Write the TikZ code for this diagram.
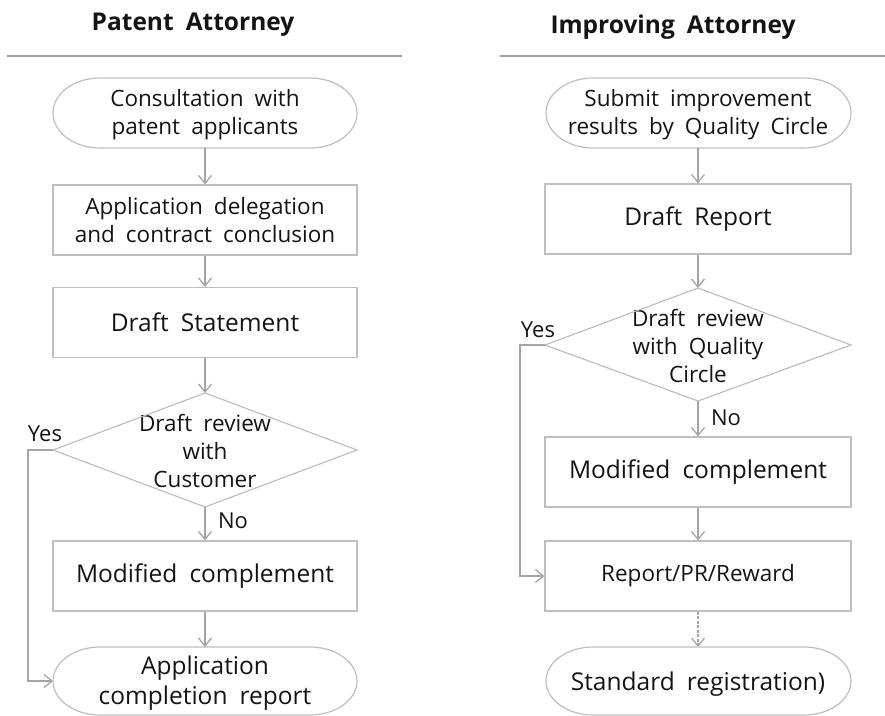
\documentclass[tikz,border=0pt]{standalone}
\usepackage{fontspec}
\setmainfont{Open Sans}[WordSpace=1.9]
\usetikzlibrary{arrows.meta}
\definecolor{edge}{RGB}{190,190,190}
\definecolor{wire}{RGB}{165,165,165}
\definecolor{rule}{RGB}{160,160,160}
\definecolor{ink}{RGB}{20,20,20}
\begin{document}
\begin{tikzpicture}[x=1pt,y=-1pt,
  txt/.style={text=ink,align=center,inner sep=0pt,font=\fontsize{22.5}{28}\selectfont},
  bigtxt/.style={txt,font=\fontsize{24.5}{30}\selectfont},
  procbox/.style={draw=edge,line width=1.2pt,minimum width=304pt,minimum height=70pt,inner sep=0pt},
  outline/.style={draw=edge,line width=1.2pt},
  flow/.style={draw=wire,line width=1.3pt,-{Straight Barb[length=8pt,width=13pt,line width=1.3pt]}},
  title/.style={text=ink,inner sep=0pt,font=\fontsize{24.5}{28}\selectfont\bfseries},
  lbl/.style={text=ink,inner sep=0pt,font=\fontsize{22}{26}\selectfont}]
\useasboundingbox (0,0) rectangle (885,715);

% column headings
\node[title] (hL) at (193,25) {Patent Attorney};
\node[title] (hR) at (673,27) {Improving Attorney};
\draw[rule,line width=1.6pt] (7,56) -- (402,56);
\draw[rule,line width=1.6pt] (500,56) -- (885,56);

% ---- left column ----
\node[txt] (t1) at (205,115) {Consultation with\\patent applicants};
\draw[outline] (100,78) -- (310,78) arc[start angle=-90,end angle=90,x radius=47,y radius=35] -- (100,148) arc[start angle=90,end angle=270,x radius=47,y radius=35] -- cycle;
\node[procbox,txt] (b1) at (205,220) {Application delegation\\and contract conclusion};
\node[procbox,bigtxt] (b2) at (205,322.5) {Draft Statement};
\node[txt] (d1) at (205,451) {Draft review\\with\\Customer};
\coordinate (d1n) at (205,393);
\coordinate (d1e) at (357,450);
\coordinate (d1s) at (205,507);
\coordinate (d1w) at (53,450);
\draw[outline] (d1n) -- (d1e) -- (d1s) -- (d1w) -- cycle;
\node[procbox,bigtxt] (b3) at (205,576) {Modified complement};
\node[bigtxt] (t2) at (205,683) {Application\\completion report};
\draw[outline] (100,647) -- (310,647) arc[start angle=-90,end angle=90,x radius=47,y radius=34] -- (100,715) arc[start angle=90,end angle=270,x radius=47,y radius=34] -- cycle;
\coordinate (t1s) at (205,148);
\coordinate (t2n) at (205,647);
\coordinate (t2w) at (53,681);
\coordinate (yL) at (28,450);

\draw[flow] (t1s) -- (b1);
\draw[flow] (b1) -- (b2);
\draw[flow] (b2) -- (d1n);
\draw[flow] (d1s) -- (b3);
\draw[flow] (b3) -- (t2n);
\draw[flow] (d1w) -- (yL) |- (t2w);
\node[lbl] (yesL) at (45,434) {Yes};
\node[lbl] (noL) at (233,521) {No};

% ---- right column ----
\node[txt] (t3) at (698,115) {Submit improvement\\results by Quality Circle};
\draw[outline] (593,78) -- (804,78) arc[start angle=-90,end angle=90,x radius=47,y radius=35] -- (593,148) arc[start angle=90,end angle=270,x radius=47,y radius=35] -- cycle;
\node[procbox,bigtxt,minimum width=306pt] (b4) at (698,219) {Draft Report};
\node[txt] (d2) at (698,346) {Draft review\\with Quality\\Circle};
\coordinate (d2n) at (698,288);
\coordinate (d2e) at (851,345);
\coordinate (d2s) at (698,401);
\coordinate (d2w) at (545,345);
\draw[outline] (d2n) -- (d2e) -- (d2s) -- (d2w) -- cycle;
\node[procbox,bigtxt,minimum width=306pt] (b5) at (698,472) {Modified complement};
\node[procbox,txt,minimum width=306pt] (b6) at (698,576) {Report/PR/Reward};
\node[bigtxt] (t4) at (698,684) {Standard registration)};
\draw[outline] (593,647) -- (804,647) arc[start angle=-90,end angle=90,x radius=47,y radius=34] -- (593,715) arc[start angle=90,end angle=270,x radius=47,y radius=34] -- cycle;
\coordinate (t3s) at (698,148);
\coordinate (t4n) at (698,647);
\coordinate (yR) at (520,345);

\draw[flow] (t3s) -- (b4);
\draw[flow] (b4) -- (d2n);
\draw[flow] (d2s) -- (b5);
\draw[flow] (b5) -- (b6);
\draw[flow,dash pattern=on 3pt off 1.5pt] (b6) -- (t4n);
\draw[flow] (d2w) -- (yR) |- (b6.west);
\node[lbl] (yesR) at (538,330) {Yes};
\node[lbl] (noR) at (726,418) {No};
\end{tikzpicture}
\end{document}
